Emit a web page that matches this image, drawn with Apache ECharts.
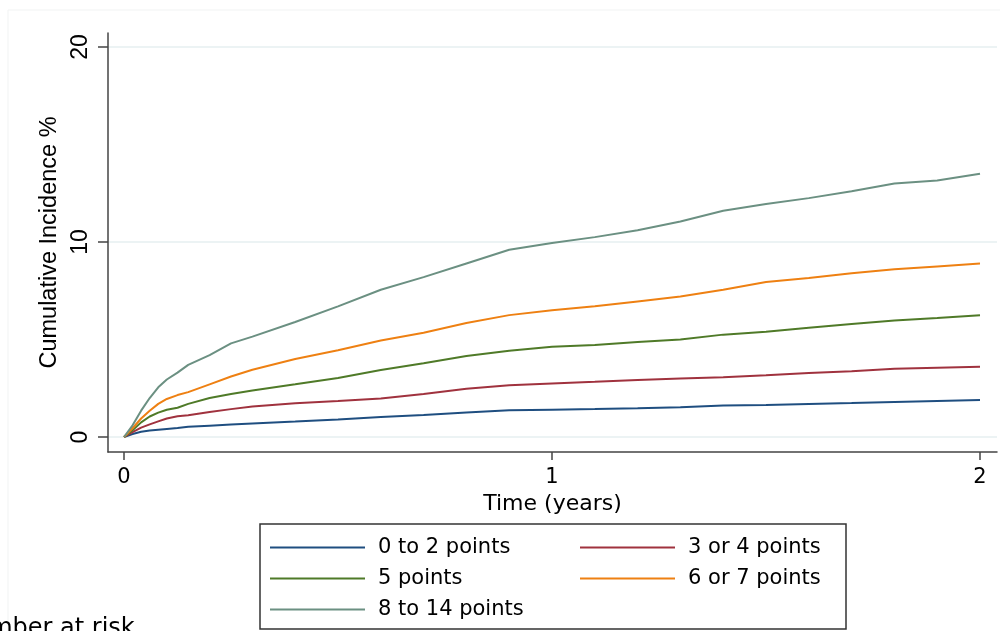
<!DOCTYPE html>
<html>
<head>
<meta charset="utf-8">
<script src="https://cdn.jsdelivr.net/npm/echarts@6/dist/echarts.min.js"></script>
<style>html,body{margin:0;padding:0;background:#fff}#c{width:1000px;height:631px}</style>
</head>
<body>
<div id="c"></div>
<script>
// Time points (years)
const times = [0, 0.02, 0.04, 0.06, 0.08, 0.1, 0.125, 0.15, 0.2, 0.25, 0.3, 0.4, 0.5, 0.6, 0.7, 0.8, 0.9, 1.0, 1.1, 1.2, 1.3, 1.4, 1.5, 1.6, 1.7, 1.8, 1.9, 2.0];
// Cumulative incidence (%) per risk-score group
const pts0to2  = [0, 0.15, 0.27, 0.33, 0.37, 0.41, 0.46, 0.52, 0.58, 0.64, 0.69, 0.79, 0.90, 1.03, 1.13, 1.26, 1.37, 1.40, 1.43, 1.47, 1.52, 1.62, 1.64, 1.69, 1.74, 1.80, 1.85, 1.90];
const pts3or4  = [0, 0.25, 0.48, 0.65, 0.80, 0.95, 1.06, 1.12, 1.28, 1.43, 1.56, 1.73, 1.85, 1.98, 2.20, 2.48, 2.65, 2.75, 2.83, 2.92, 3.00, 3.07, 3.17, 3.28, 3.37, 3.50, 3.55, 3.60];
const pts5     = [0, 0.35, 0.75, 1.05, 1.25, 1.40, 1.50, 1.70, 2.00, 2.20, 2.38, 2.70, 3.03, 3.44, 3.78, 4.15, 4.42, 4.63, 4.72, 4.87, 5.00, 5.25, 5.40, 5.60, 5.80, 5.97, 6.10, 6.25];
const pts6or7  = [0, 0.45, 0.95, 1.35, 1.70, 1.95, 2.15, 2.30, 2.70, 3.10, 3.45, 4.00, 4.45, 4.95, 5.35, 5.85, 6.25, 6.50, 6.70, 6.95, 7.20, 7.55, 7.95, 8.15, 8.40, 8.60, 8.75, 8.90];
const pts8to14 = [0, 0.60, 1.35, 2.00, 2.55, 2.95, 3.30, 3.70, 4.20, 4.80, 5.15, 5.90, 6.70, 7.55, 8.20, 8.90, 9.60, 9.95, 10.25, 10.60, 11.05, 11.60, 11.95, 12.25, 12.60, 13.00, 13.15, 13.50];
const groupNames = ['0 to 2 points', '3 or 4 points', '5 points', '6 or 7 points', '8 to 14 points'];
const xTicks = [0, 1, 2];
const yTicks = [0, 10, 20];

const groupValues = [pts0to2, pts3or4, pts5, pts6or7, pts8to14];
const colors = ['#1f4e80', '#a0323e', '#4f7a28', '#ee8012', '#6b9082'];

const chart = echarts.init(document.getElementById('c'), null, {renderer: 'canvas'});
const hFont = 'DejaVu Sans';
const vFont = 'Liberation Sans';

const series = groupNames.map((name, i) => ({
  name: name,
  type: 'line',
  data: times.map((t, j) => [t, groupValues[i][j]]),
  showSymbol: false,
  symbol: 'none',
  lineStyle: {color: colors[i], width: 2},
  itemStyle: {color: colors[i]},
  z: 3 + i
}));

const legendCommon = {
  orient: 'vertical',
  top: 537,
  padding: 0,
  itemGap: 10,
  itemWidth: 95,
  itemHeight: 2,
  icon: 'rect',
  selectedMode: false,
  textStyle: {fontFamily: hFont, fontSize: 21, color: '#000', padding: [0, 0, 0, 8]}
};

chart.setOption({
  animation: false,
  backgroundColor: '#fff',
  grid: {left: 108, right: 3, top: 33, bottom: 179, containLabel: false},
  xAxis: {
    type: 'value',
    min: -0.0374,
    max: 2.0397,
    name: 'Time (years)',
    nameLocation: 'middle',
    nameGap: 33,
    nameTextStyle: {fontFamily: hFont, fontSize: 22, color: '#000'},
    axisLine: {show: true, onZero: false, lineStyle: {color: '#444', width: 1.5}},
    axisTick: {show: true, length: 8, customValues: xTicks, lineStyle: {color: '#444', width: 1.5}},
    axisLabel: {customValues: xTicks, margin: 15, fontFamily: hFont, fontSize: 21, color: '#000'},
    splitLine: {show: false}
  },
  yAxis: {
    type: 'value',
    min: -0.769,
    max: 20.718,
    name: 'Cumulative Incidence %',
    nameLocation: 'middle',
    nameGap: 46,
    nameRotate: 90,
    nameTextStyle: {fontFamily: vFont, fontSize: 23.5, color: '#000'},
    axisLine: {show: true, onZero: false, lineStyle: {color: '#444', width: 1.5}},
    axisTick: {show: true, length: 10, customValues: yTicks, lineStyle: {color: '#444', width: 1.5}},
    axisLabel: {customValues: yTicks, rotate: 90, margin: 16, fontFamily: vFont, fontSize: 23, color: '#000'},
    splitLine: {show: true, lineStyle: {color: '#e6eff1', width: 1.5}}
  },
  legend: [
    Object.assign({}, legendCommon, {left: 270, data: [groupNames[0], groupNames[2], groupNames[4]]}),
    Object.assign({}, legendCommon, {left: 580, data: [groupNames[1], groupNames[3]]})
  ],
  graphic: [
    {type: 'rect', silent: true, shape: {x: 8, y: 10, width: 1000, height: 700},
     style: {fill: 'none', stroke: '#f1f3f3', lineWidth: 1}},
    {type: 'rect', silent: true, shape: {x: 260, y: 524, width: 586, height: 105},
     style: {fill: 'none', stroke: '#333', lineWidth: 1.5}},
    {type: 'text', silent: true, x: -44, y: 617,
     style: {text: 'Number at risk', font: '24px "DejaVu Sans"', fill: '#000', align: 'left', verticalAlign: 'top'}}
  ],
  series: series
});
</script>
</body>
</html>
